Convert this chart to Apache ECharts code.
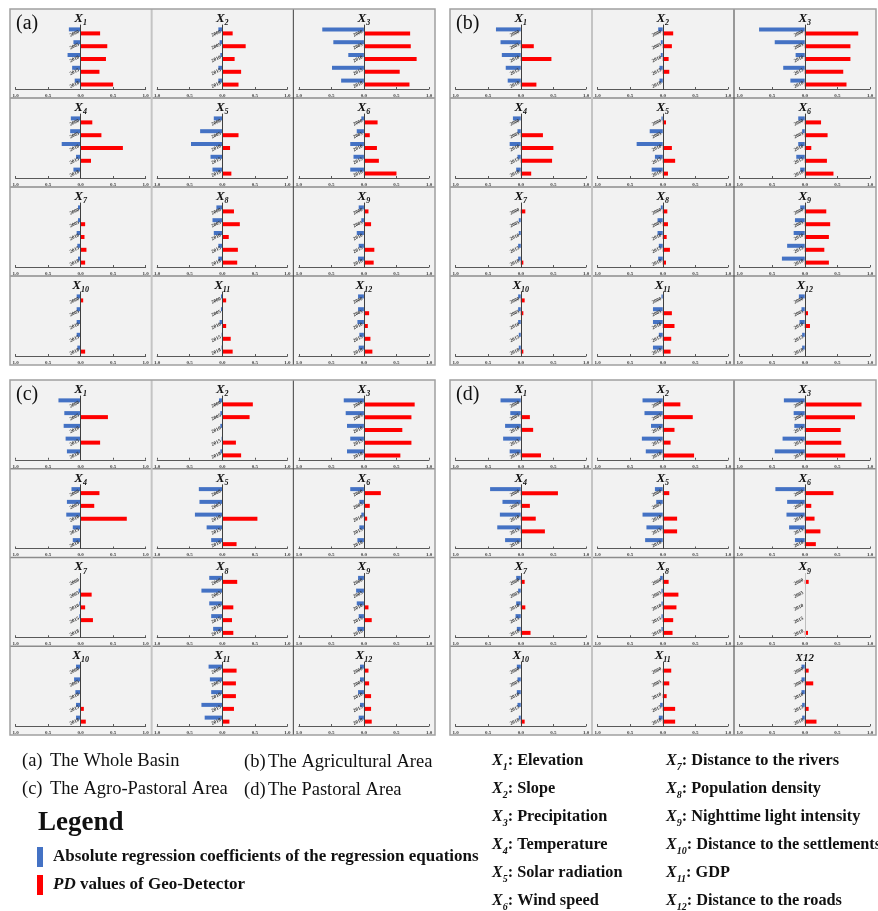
<!DOCTYPE html>
<html>
<head>
<meta charset="utf-8">
<script src="https://cdn.jsdelivr.net/npm/echarts@6/dist/echarts.min.js"></script>
<style>
  html, body { margin: 0; padding: 0; background: #ffffff; }
  #chart { width: 878px; height: 911px; }
</style>
</head>
<body>
<div id="chart"></div>
<script>
// Years shown on each small bar chart (top to bottom)
const years = ['2000', '2005', '2010', '2015', '2018'];

// Absolute regression coefficients (blue, drawn to the left), one row per factor X1..X12
const coefWhole = [
  [0.18, 0.11, 0.20, 0.13, 0.09],
  [0.06, 0.04, 0.03, 0.06, 0.06],
  [0.64, 0.47, 0.24, 0.49, 0.35],
  [0.15, 0.16, 0.29, 0.07, 0.11],
  [0.13, 0.34, 0.48, 0.18, 0.15],
  [0.04, 0.11, 0.21, 0.16, 0.21],
  [0.04, 0.04, 0.06, 0.05, 0.04],
  [0.09, 0.15, 0.13, 0.06, 0.06],
  [0.08, 0.04, 0.11, 0.08, 0.09],
  [0.06, 0.06, 0.06, 0.06, 0.05],
  [0.02, 0.02, 0.04, 0.01, 0.01],
  [0.09, 0.09, 0.10, 0.07, 0.08]
];
// PD values of Geo-Detector (red, drawn to the right)
const pdWhole = [
  [0.30, 0.41, 0.39, 0.29, 0.50],
  [0.16, 0.36, 0.19, 0.29, 0.25],
  [0.71, 0.72, 0.81, 0.55, 0.70],
  [0.18, 0.32, 0.65, 0.16, 0],
  [0, 0.25, 0.12, 0, 0.14],
  [0.21, 0.09, 0.20, 0.23, 0.50],
  [0, 0.07, 0.06, 0.09, 0.07],
  [0.18, 0.27, 0.10, 0.24, 0.23],
  [0.07, 0.11, 0, 0.16, 0.15],
  [0.04, 0, 0, 0, 0.07],
  [0.06, 0, 0.06, 0.13, 0.16],
  [0, 0.08, 0.06, 0.10, 0.13]
];

const coefAgri = [
  [0.38, 0.31, 0.29, 0.23, 0.20],
  [0.07, 0.03, 0.03, 0.05, 0.05],
  [0.70, 0.46, 0.14, 0.33, 0.22],
  [0.12, 0.05, 0.17, 0.05, 0.07],
  [0.02, 0.20, 0.40, 0.12, 0.17],
  [0.10, 0.04, 0.10, 0.13, 0.07],
  [0, 0.03, 0.03, 0.04, 0.04],
  [0.03, 0.08, 0.08, 0.06, 0.07],
  [0.07, 0.15, 0.17, 0.27, 0.35],
  [0.04, 0.04, 0.04, 0.03, 0.03],
  [0.02, 0.15, 0.15, 0.06, 0.15],
  [0.09, 0.05, 0.08, 0.04, 0.04]
];
const pdAgri = [
  [0, 0.20, 0.47, 0, 0.24],
  [0.16, 0.14, 0.09, 0.10, 0],
  [0.82, 0.70, 0.70, 0.59, 0.64],
  [0, 0.34, 0.50, 0.48, 0.16],
  [0.05, 0, 0.14, 0.19, 0.08],
  [0.25, 0.35, 0.10, 0.34, 0.44],
  [0.07, 0, 0, 0, 0.04],
  [0.07, 0.08, 0.06, 0.11, 0.05],
  [0.33, 0.39, 0.37, 0.30, 0.37],
  [0.06, 0.04, 0, 0, 0.04],
  [0, 0.14, 0.18, 0.13, 0.12],
  [0, 0.05, 0.08, 0, 0]
];

const coefAgroPast = [
  [0.34, 0.25, 0.26, 0.23, 0.21],
  [0.05, 0.03, 0.03, 0.01, 0.03],
  [0.31, 0.28, 0.26, 0.21, 0.26],
  [0.14, 0.21, 0.22, 0.12, 0.12],
  [0.36, 0.35, 0.42, 0.24, 0.17],
  [0.21, 0.07, 0.04, 0.07, 0.10],
  [0.01, 0.03, 0.02, 0.02, 0.01],
  [0.20, 0.32, 0.20, 0.17, 0.14],
  [0.09, 0.12, 0.11, 0.08, 0.10],
  [0.07, 0.10, 0.08, 0.07, 0.07],
  [0.21, 0.19, 0.17, 0.32, 0.27],
  [0.06, 0.06, 0.09, 0.06, 0.08]
];
const pdAgroPast = [
  [0, 0.42, 0, 0.30, 0],
  [0.47, 0.42, 0, 0.21, 0.29],
  [0.78, 0.73, 0.59, 0.73, 0.56],
  [0.29, 0.21, 0.71, 0, 0],
  [0, 0, 0.54, 0, 0.22],
  [0.26, 0.09, 0.05, 0, 0],
  [0, 0.17, 0.07, 0.19, 0],
  [0.23, 0, 0.17, 0.15, 0.17],
  [0, 0, 0.07, 0.12, 0],
  [0, 0, 0, 0.05, 0.08],
  [0.22, 0.21, 0.21, 0.18, 0.11],
  [0.07, 0.08, 0.11, 0.11, 0.12]
];

const coefPast = [
  [0.31, 0.16, 0.24, 0.27, 0.17],
  [0.31, 0.28, 0.18, 0.32, 0.26],
  [0.32, 0.17, 0.16, 0.34, 0.46],
  [0.47, 0.28, 0.32, 0.36, 0.24],
  [0.12, 0.10, 0.31, 0.25, 0.27],
  [0.45, 0.27, 0.28, 0.24, 0.15],
  [0.07, 0.04, 0.07, 0.08, 0.06],
  [0.04, 0.02, 0.02, 0.02, 0.02],
  [0, 0, 0, 0, 0],
  [0.06, 0.05, 0.06, 0.05, 0.03],
  [0, 0, 0, 0.04, 0.06],
  [0.05, 0.05, 0.05, 0.04, 0.04]
];
const pdPast = [
  [0, 0.14, 0.19, 0, 0.31],
  [0.27, 0.46, 0.18, 0.12, 0.48],
  [0.87, 0.77, 0.55, 0.56, 0.62],
  [0.57, 0.14, 0.23, 0.37, 0],
  [0.10, 0, 0.22, 0.22, 0],
  [0.44, 0.10, 0.15, 0.24, 0.17],
  [0.06, 0, 0.07, 0, 0.15],
  [0.09, 0.24, 0.21, 0.16, 0.15],
  [0.06, 0, 0, 0, 0.05],
  [0, 0, 0, 0, 0.06],
  [0.13, 0.10, 0.06, 0.19, 0.19],
  [0.06, 0.13, 0, 0.06, 0.18]
];

// Panel tags and area names
const panelTags = ['(a)', '(b)', '(c)', '(d)'];
const areaNames = ['The Whole Basin', 'The Agricultural Area', 'The Agro-Pastoral Area', 'The Pastoral Area'];
// Factor names for X1..X12
const factorNames = ['Elevation', 'Slope', 'Precipitation', 'Temperature', 'Solar radiation', 'Wind speed',
  'Distance to the rivers', 'Population density', 'Nighttime light intensity',
  'Distance to the settlements', 'GDP', 'Distance to the roads'];
const legendNames = ['Absolute regression coefficients of the regression equations', 'PD values of Geo-Detector'];

const BLUE = '#4472C4';
const RED = '#FF0000';
const SERIF = '"Liberation Serif", "Times New Roman", serif';

const panels = [
  { x: 10,  y: 9,   w: 425, h: 356, coef: coefWhole,    pd: pdWhole },
  { x: 450, y: 9,   w: 426, h: 356, coef: coefAgri,     pd: pdAgri },
  { x: 10,  y: 380, w: 425, h: 355, coef: coefAgroPast, pd: pdAgroPast },
  { x: 450, y: 380, w: 426, h: 355, coef: coefPast,     pd: pdPast }
];

const grids = [], xAxes = [], yAxes = [], series = [], graphics = [];

panels.forEach((p, pi) => {
  const cw = p.w / 3, ch = p.h / 4;
  // cell backgrounds
  graphics.push({ type: 'rect', z: -10, shape: { x: p.x, y: p.y, width: p.w, height: p.h },
    style: { fill: '#f2f2f2' }, silent: true });

  for (let k = 0; k < 12; k++) {
    const col = k % 3, row = Math.floor(k / 3);
    const cx = p.x + col * cw, cy = p.y + row * ch;
    const idx = grids.length;
    const gLeft = cx + 5.5, gWidth = cw - 11.5;
    grids.push({ left: gLeft, top: cy + 16, width: gWidth, height: ch - 25 });
    xAxes.push({
      gridIndex: idx, type: 'value', min: -1, max: 1, interval: 0.5,
      axisLine: { show: true, lineStyle: { color: '#595959', width: 1 } },
      axisTick: { show: true, inside: true, length: 2, lineStyle: { color: '#595959' } },
      splitLine: { show: false },
      axisLabel: {
        fontSize: 5, fontFamily: SERIF, fontWeight: 'bold', color: '#404040', margin: 4,
        showMinLabel: true, showMaxLabel: true,
        formatter: v => Math.abs(v).toFixed(1)
      }
    });
    yAxes.push({
      gridIndex: idx, type: 'category', data: years, inverse: true, z: 3,
      axisLine: { show: true, onZero: true, lineStyle: { color: (pi === 3 && k === 8) ? '#bfbfbf' : '#3f3f3f', width: 1 } },
      axisTick: { show: false },
      // labels sit just left of the zero line in the middle of the plot
      axisLabel: { interval: 0, rotate: 25, fontSize: 5, fontFamily: SERIF, fontWeight: 'bold', color: '#333333',
        margin: -(gWidth / 2) + 1.5 }
    });
    series.push({
      type: 'bar', name: legendNames[0], xAxisIndex: idx, yAxisIndex: idx,
      data: p.coef[k].map(v => -v), barWidth: 4, barGap: '0%',
      itemStyle: { color: BLUE }, silent: true, animation: false
    });
    series.push({
      type: 'bar', name: legendNames[1], xAxisIndex: idx, yAxisIndex: idx,
      data: p.pd[k], barWidth: 4, barGap: '0%',
      itemStyle: { color: RED }, silent: true, animation: false
    });

    // small-multiple title X_k
    const zeroX = gLeft + gWidth / 2;
    const plain = (pi === 3 && k === 11);
    graphics.push({
      type: 'text', z: 20, x: zeroX, y: cy + 3, silent: true,
      style: {
        text: plain ? '{p|X12}' : '{x|X}{s|' + (k + 1) + '}',
        align: 'center', verticalAlign: 'top',
        rich: {
          x: { fontFamily: SERIF, fontStyle: 'italic', fontWeight: 'bold', fontSize: 13, lineHeight: 13, verticalAlign: 'top', fill: '#111' },
          s: { fontFamily: SERIF, fontStyle: 'italic', fontWeight: 'bold', fontSize: 8, lineHeight: 22, fill: '#111' },
          p: { fontFamily: SERIF, fontStyle: 'italic', fontWeight: 'bold', fontSize: 11, lineHeight: 18, fill: '#111' }
        }
      }
    });
  }

  // grid lines between cells
  for (let r = 1; r < 4; r++) {
    graphics.push({ type: 'line', z: 30, silent: true,
      shape: { x1: p.x, y1: p.y + r * ch, x2: p.x + p.w, y2: p.y + r * ch },
      style: { stroke: '#8c8c8c', lineWidth: 1.5 } });
  }
  graphics.push({ type: 'line', z: 30, silent: true,
    shape: { x1: p.x + cw, y1: p.y, x2: p.x + cw, y2: p.y + p.h },
    style: { stroke: '#c4c4c4', lineWidth: 2 } });
  graphics.push({ type: 'line', z: 30, silent: true,
    shape: { x1: p.x + 2 * cw, y1: p.y, x2: p.x + 2 * cw, y2: p.y + p.h },
    style: { stroke: '#3f3f3f', lineWidth: 1 } });
  graphics.push({ type: 'rect', z: 30, silent: true,
    shape: { x: p.x, y: p.y, width: p.w, height: p.h },
    style: { fill: null, stroke: '#a0a0a0', lineWidth: 1.5 } });

  // panel tag
  graphics.push({ type: 'text', z: 31, x: p.x + 6, y: p.y + 15, silent: true,
    style: { text: panelTags[pi], fontFamily: SERIF, fontSize: 20, fill: '#111', verticalAlign: 'middle' } });
});

// Area descriptions
const areaPos = [[22, 761], [244, 762], [22, 789], [244, 790]];
areaPos.forEach((pos, i) => {
  graphics.push({ type: 'text', x: pos[0], y: pos[1], silent: true,
    style: { text: panelTags[i], fontFamily: SERIF, fontSize: 18.5, fill: '#111', verticalAlign: 'middle' } });
  graphics.push({ type: 'text', x: pos[0] + (i % 2 === 0 ? 28 : 24), y: pos[1], silent: true,
    style: { text: areaNames[i], fontFamily: SERIF, fontSize: 18.5, fill: '#111', verticalAlign: 'middle' } });
});

// Legend block
graphics.push({ type: 'text', x: 38, y: 823, silent: true,
  style: { text: 'Legend', fontFamily: SERIF, fontWeight: 'bold', fontSize: 27, fill: '#111', verticalAlign: 'middle' } });
graphics.push({ type: 'rect', silent: true, shape: { x: 37, y: 847, width: 6, height: 20 }, style: { fill: BLUE } });
graphics.push({ type: 'rect', silent: true, shape: { x: 37, y: 875, width: 6, height: 20 }, style: { fill: RED } });
graphics.push({ type: 'text', x: 53, y: 857, silent: true,
  style: { text: legendNames[0], fontFamily: SERIF, fontWeight: 'bold', fontSize: 17, fill: '#111', verticalAlign: 'middle' } });
graphics.push({ type: 'text', x: 53, y: 885, silent: true,
  style: { text: '{i|PD}{t| values of Geo-Detector}', verticalAlign: 'middle',
    rich: {
      i: { fontFamily: SERIF, fontWeight: 'bold', fontStyle: 'italic', fontSize: 17, fill: '#111' },
      t: { fontFamily: SERIF, fontWeight: 'bold', fontSize: 17, fill: '#111' }
    } } });

// Factor key
factorNames.forEach((name, i) => {
  const colX = i < 6 ? 492 : 666;
  const cyText = 761 + (i % 6) * 28;
  graphics.push({ type: 'text', x: colX, y: cyText - 8, silent: true,
    style: {
      text: '{x|X}{s|' + (i + 1) + '}{t|: ' + name + '}', verticalAlign: 'top',
      rich: {
        x: { fontFamily: SERIF, fontStyle: 'italic', fontWeight: 'bold', fontSize: 16, lineHeight: 16, verticalAlign: 'top', fill: '#111' },
        s: { fontFamily: SERIF, fontStyle: 'italic', fontWeight: 'bold', fontSize: 10, lineHeight: 28, fill: '#111' },
        t: { fontFamily: SERIF, fontWeight: 'bold', fontSize: 16.3, lineHeight: 16, verticalAlign: 'top', fill: '#111' }
      }
    } });
});

const chart = echarts.init(document.getElementById('chart'), null, { renderer: 'canvas' });
chart.setOption({
  backgroundColor: '#ffffff',
  animation: false,
  grid: grids,
  xAxis: xAxes,
  yAxis: yAxes,
  series: series,
  graphic: { elements: graphics }
});
</script>
</body>
</html>
